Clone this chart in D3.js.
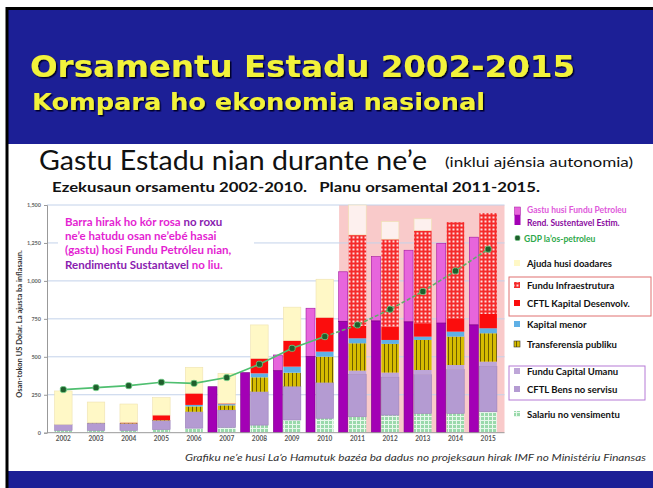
<!DOCTYPE html>
<html>
<head>
<meta charset="utf-8">
<script src="https://cdn.jsdelivr.net/npm/d3@7"></script>
<style>
  body { margin: 0; background: #fff; }
  svg { display: block; }
</style>
</head>
<body>
<div id="chart"></div>
<script>
// Data (US$ millions, nominal)
const years = ['2002','2003','2004','2005','2006','2007','2008','2009','2010','2011','2012','2013','2014','2015'];
const salariu           = [15, 15, 15, 20, 30, 35, 50, 84, 95, 105, 116, 127, 127, 138];
const bensServisu       = [40, 48, 45, 60, 108, 115, 220, 221, 235, 280, 250, 256, 289, 300];
const funduCapitalUmanu = [0, 0, 0, 0, 0, 0, 0, 0, 0, 24, 30, 30, 30, 30];
const transferensia     = [0, 3, 3, 3, 35, 30, 95, 90, 171, 180, 189, 198, 187, 187];
const kapitalMenor      = [0, 0, 0, 0, 10, 8, 26, 40, 33, 33, 26, 22, 33, 33];
const kapitalDesenvolv  = [0, 0, 5, 33, 77, 6, 99, 172, 226, 81, 88, 88, 88, 94];
const funduInfra        = [0, 0, 0, 0, 0, 0, 0, 0, 0, 600, 576, 611, 633, 664];
const ajudaDoadares     = [220, 136, 121, 115, 171, 197, 220, 220, 251, 197, 116, 77, 0, 0];
const rendSustentavel   = [0, 0, 0, 0, 0, 303, 396, 408, 502, 734, 736, 730, 722, 710];
const gastuFunduPetroleu = [0, 0, 0, 0, 0, 303, 396, 512, 820, 1060, 1160, 1202, 1248, 1288];
const gdpNaunMinarai    = [284, 297, 310, 332, 325, 363, 451, 556, 633, 710, 813, 930, 1066, 1209];
const yTicks = [0, 250, 500, 750, 1000, 1250, 1500];
const planYears = ['2011','2012','2013','2014','2015'];

const W = 653, H = 488;
const svg = d3.select('#chart').append('svg').attr('width', W).attr('height', H);

// ---- patterns + shadow ----
const defs = svg.append('defs');
const pInfra = defs.append('pattern').attr('id', 'pInfra').attr('patternUnits', 'userSpaceOnUse')
  .attr('width', 4).attr('height', 4);
pInfra.append('rect').attr('width', 4).attr('height', 4).attr('fill', '#f52a2a');
pInfra.append('rect').attr('x', 0.5).attr('y', 0.5).attr('width', 2).attr('height', 2).attr('fill', '#fff').attr('opacity', 0.85);

const pSal = defs.append('pattern').attr('id', 'pSal').attr('patternUnits', 'userSpaceOnUse')
  .attr('width', 4).attr('height', 4);
pSal.append('rect').attr('width', 4).attr('height', 4).attr('fill', '#9ad9ab');
pSal.append('path').attr('d', 'M0,0.5H4M0.5,0V4').attr('stroke', '#e8f8ec').attr('stroke-width', 1);

const pTrans = defs.append('pattern').attr('id', 'pTrans').attr('patternUnits', 'userSpaceOnUse')
  .attr('width', 4).attr('height', 4);
pTrans.append('rect').attr('width', 4).attr('height', 4).attr('fill', '#d6bc00');
pTrans.append('rect').attr('x', 0).attr('width', 1).attr('height', 4).attr('fill', '#6e5c00');

defs.append('filter').attr('id', 'shadow').attr('x', '-5%').attr('y', '-20%').attr('width', '110%').attr('height', '150%')
  .append('feDropShadow').attr('dx', 1.5).attr('dy', 1.5).attr('stdDeviation', 0.6).attr('flood-color', '#05052a');

// ---- slide background ----
svg.append('rect').attr('x', 7).attr('y', 8).attr('width', W).attr('height', H).attr('fill', '#1c1f96');
svg.append('rect').attr('x', 7).attr('y', 144).attr('width', W).attr('height', 327).attr('fill', '#fff');
svg.append('path').attr('d', `M7,${H}V8.5H${W}`).attr('fill', 'none').attr('stroke', '#000').attr('stroke-width', 3);

const titleFont = 'DejaVu Sans, Verdana, sans-serif';
function titleText(x, y, txt, size, len) {
  svg.append('text').attr('x', x).attr('y', y).attr('font-family', titleFont)
    .attr('font-weight', 'bold').attr('font-size', size).attr('fill', '#f2f23a')
    .attr('filter', 'url(#shadow)')
    .attr('textLength', len).attr('lengthAdjust', 'spacingAndGlyphs').text(txt);
}
titleText(30, 77, 'Orsamentu Estadu 2002-2015', 31, 545);
titleText(32, 110, 'Kompara ho ekonomia nasional', 23, 453);

const bodyFont = 'Lato, "Open Sans", sans-serif';
svg.append('text').attr('x', 39).attr('y', 170).attr('font-family', bodyFont).attr('font-size', 27)
  .attr('fill', '#111').attr('textLength', 388).attr('lengthAdjust', 'spacingAndGlyphs')
  .text('Gastu Estadu nian durante ne’e');
svg.append('text').attr('x', 445).attr('y', 167).attr('font-family', bodyFont).attr('font-size', 13.5)
  .attr('fill', '#111').attr('textLength', 188).attr('lengthAdjust', 'spacingAndGlyphs')
  .text('(inklui ajénsia autonomia)');
svg.append('text').attr('x', 52).attr('y', 192).attr('font-family', bodyFont).attr('font-size', 14)
  .attr('font-weight', 'bold').attr('fill', '#111').attr('textLength', 488).attr('lengthAdjust', 'spacingAndGlyphs')
  .attr('xml:space', 'preserve')
  .text('Ezekusaun orsamentu 2002-2010.   Planu orsamental 2011-2015.');

// ---- scales ----
const x = d3.scaleBand().domain(years).range([47, 504.5]);
const y = d3.scaleLinear().domain([0, 1500]).range([432.7, 205]);
const stackW = 17.5, pfW = 9;
const cx = d => x(d) + x.bandwidth() / 2;

// projected years shaded pink
svg.append('rect').attr('x', x('2011') - 2).attr('y', y(1500))
  .attr('width', x.range()[1] - x('2011') + 2).attr('height', y(0) - y(1500)).attr('fill', '#f9caca');

// gridlines
svg.append('g').selectAll('line').data(yTicks.filter(t => t > 0)).join('line')
  .attr('x1', 47).attr('x2', 504.5).attr('y1', d => y(d)).attr('y2', d => y(d))
  .attr('stroke', '#c3d2ea').attr('stroke-width', 1);

// y axis
const yAxis = svg.append('g').attr('transform', 'translate(47,0)')
  .call(d3.axisLeft(y).tickValues(yTicks).tickFormat(d3.format(',')).tickSize(3));
yAxis.select('.domain').attr('stroke', '#999');
yAxis.selectAll('.tick line').attr('stroke', '#999');
yAxis.selectAll('text').attr('font-family', bodyFont).attr('font-size', 5.5).attr('font-weight', 'bold').attr('fill', '#666');

svg.append('text').attr('transform', 'translate(22,324) rotate(-90)').attr('text-anchor', 'middle')
  .attr('font-family', bodyFont).attr('font-size', 7.5).attr('font-weight', 'bold').attr('fill', '#333')
  .text('Osan-tokon US Dolar. La ajusta ba inflasaun.');

// ---- stacked bars ----
const rows = years.map((yr, i) => ({
  year: yr, sal: salariu[i], bens: bensServisu[i], fcu: funduCapitalUmanu[i], trans: transferensia[i],
  kmen: kapitalMenor[i], kdev: kapitalDesenvolv[i], infra: funduInfra[i], ajuda: ajudaDoadares[i]
}));
const keys = ['sal', 'bens', 'fcu', 'trans', 'kmen', 'kdev', 'infra', 'ajuda'];
const fills = {
  sal: 'url(#pSal)', bens: '#b49bd2', fcu: '#bea6d8', trans: 'url(#pTrans)',
  kmen: '#5fb0e6', kdev: '#fb0d0d', infra: 'url(#pInfra)', ajuda: '#fff8c6'
};
const series = d3.stack().keys(keys)(rows);

svg.append('g').selectAll('g').data(series).join('g')
  .attr('fill', s => fills[s.key])
  .selectAll('rect').data(s => s.map(d => Object.assign(d, { key: s.key }))).join('rect')
  .attr('x', d => cx(d.data.year) - stackW / 2)
  .attr('y', d => y(d[1]))
  .attr('width', stackW)
  .attr('height', d => y(d[0]) - y(d[1]))
  .attr('fill', d => (d.key === 'ajuda' && planYears.includes(d.data.year)) ? '#fdf0ee' : null)
  .attr('stroke', d => d.key === 'ajuda' ? '#eee2b0' : (d.key === 'bens' ? '#9a82ba' : 'none'))
  .attr('stroke-width', 0.6);

// ---- petroleum fund withdrawals (RSE + excess) ----
const pf = years.map((yr, i) => ({ year: yr, rse: rendSustentavel[i], total: gastuFunduPetroleu[i] }))
  .filter(d => d.total > 0);
const pfX = d => cx(d.year) - stackW / 2 - 1 - pfW;
svg.append('g').selectAll('rect').data(pf.filter(d => d.total > d.rse)).join('rect')
  .attr('x', pfX).attr('y', d => y(d.total)).attr('width', pfW).attr('height', d => y(d.rse) - y(d.total))
  .attr('fill', '#e765dc').attr('stroke', '#a2159e').attr('stroke-width', 0.6);
svg.append('g').selectAll('rect').data(pf).join('rect')
  .attr('x', pfX).attr('y', d => y(d.rse)).attr('width', pfW).attr('height', d => y(0) - y(d.rse))
  .attr('fill', '#a300b5').attr('stroke', '#7a0088').attr('stroke-width', 0.6);

// baseline + x labels
svg.append('line').attr('x1', 47).attr('x2', 504.5).attr('y1', y(0)).attr('y2', y(0)).attr('stroke', '#999');
svg.append('g').selectAll('text').data(years).join('text')
  .attr('x', d => cx(d)).attr('y', 441).attr('text-anchor', 'middle')
  .attr('font-family', bodyFont).attr('font-size', 6.5).attr('font-weight', 'bold').attr('fill', '#555')
  .text(d => d);

// ---- GDP non-oil line ----
const gdp = years.map((yr, i) => ({ year: yr, v: gdpNaunMinarai[i] }));
const line = d3.line().x(d => cx(d.year)).y(d => y(d.v));
svg.append('path').datum(gdp.slice(0, 9)).attr('d', line)
  .attr('fill', 'none').attr('stroke', '#4fbf70').attr('stroke-width', 1.6);
svg.append('path').datum(gdp.slice(8)).attr('d', line)
  .attr('fill', 'none').attr('stroke', '#5fae6a').attr('stroke-width', 1.6).attr('stroke-dasharray', '4,2');
svg.append('g').selectAll('rect').data(gdp).join('rect')
  .attr('x', d => cx(d.year) - 3).attr('y', d => y(d.v) - 3).attr('width', 6).attr('height', 6).attr('rx', 2)
  .attr('fill', '#1f5e2c').attr('stroke', '#6fcf86').attr('stroke-width', 0.8);

// ---- annotation ----
svg.append('rect').attr('x', 58).attr('y', 209).attr('width', 196).attr('height', 64).attr('fill', '#fff');
const note = [
  [['Barra hirak ho kór rosa ', '#e41fd2'], ['no roxu', '#8a1cb0']],
  [['ne’e hatudu osan ne’ebé hasai', '#e41fd2']],
  [['(gastu) hosi Fundu Petróleu nian,', '#e41fd2']],
  [['Rendimentu Sustantavel ', '#8a1cb0'], ['no liu.', '#e41fd2']]
];
note.forEach((parts, i) => {
  const t = svg.append('text').attr('x', 65).attr('y', 226 + i * 14.2)
    .attr('font-family', bodyFont).attr('font-size', 11.5).attr('font-weight', 'bold')
    .attr('xml:space', 'preserve');
  parts.forEach(p => t.append('tspan').attr('fill', p[1]).text(p[0]));
});

// ---- legend ----
const lg = svg.append('g').attr('font-family', bodyFont).attr('font-weight', 'bold').attr('font-size', 9.5);
lg.append('rect').attr('x', 514.5).attr('y', 207).attr('width', 6).attr('height', 8).attr('fill', '#e765dc').attr('stroke', '#a2159e').attr('stroke-width', 0.5);
lg.append('rect').attr('x', 514.5).attr('y', 215).attr('width', 6).attr('height', 10).attr('fill', '#a300b5');
lg.append('text').attr('x', 527).attr('y', 213).attr('fill', '#e05adb').attr('font-size', 8.5).text('Gastu husi Fundu Petroleu');
lg.append('text').attr('x', 527).attr('y', 226).attr('fill', '#8a0aa0').attr('font-size', 8.5).text('Rend. Sustentavel Estim.');
lg.append('rect').attr('x', 515).attr('y', 235.5).attr('width', 5).attr('height', 5).attr('rx', 1.5).attr('fill', '#1f5e2c').attr('stroke', '#6fcf86').attr('stroke-width', 0.6);
lg.append('text').attr('x', 524).attr('y', 241.5).attr('fill', '#2ea84a').attr('font-size', 8.5).text('GDP la’os-petroleu');

svg.append('rect').attr('x', 509).attr('y', 277).attr('width', 142).attr('height', 39).attr('fill', 'none').attr('stroke', '#e07070').attr('stroke-width', 1);
svg.append('rect').attr('x', 509).attr('y', 366).attr('width', 136).attr('height', 34).attr('fill', 'none').attr('stroke', '#b67ad6').attr('stroke-width', 1);

const legendRows = [
  { label: 'Ajuda husi doadares', fill: fills.ajuda, y: 267 },
  { label: 'Fundu Infraestrutura', fill: fills.infra, y: 289 },
  { label: 'CFTL Kapital Desenvolv.', fill: fills.kdev, y: 307 },
  { label: 'Kapital menor', fill: fills.kmen, y: 328 },
  { label: 'Transferensia publiku', fill: fills.trans, y: 348 },
  { label: 'Fundu Capital Umanu', fill: fills.fcu, y: 375 },
  { label: 'CFTL Bens no servisu', fill: fills.bens, y: 393 },
  { label: 'Salariu no vensimentu', fill: fills.sal, y: 418 }
];
legendRows.forEach(r => {
  lg.append('rect').attr('x', 514).attr('y', r.y - 7).attr('width', 6).attr('height', 6).attr('fill', r.fill)
    .attr('stroke', r.label.startsWith('Transf') ? '#333' : 'none').attr('stroke-width', 0.6);
  lg.append('text').attr('x', 527).attr('y', r.y).attr('fill', '#111').text(r.label);
});

// ---- footer ----
svg.append('text').attr('x', 646).attr('y', 461).attr('text-anchor', 'end')
  .attr('font-family', bodyFont).attr('font-style', 'italic').attr('font-size', 9).attr('fill', '#333')
  .attr('textLength', 461).attr('lengthAdjust', 'spacingAndGlyphs')
  .text('Grafiku ne’e husi La’o Hamutuk bazéa ba dadus no projeksaun hirak IMF no Ministériu Finansas');
</script>
</body>
</html>
